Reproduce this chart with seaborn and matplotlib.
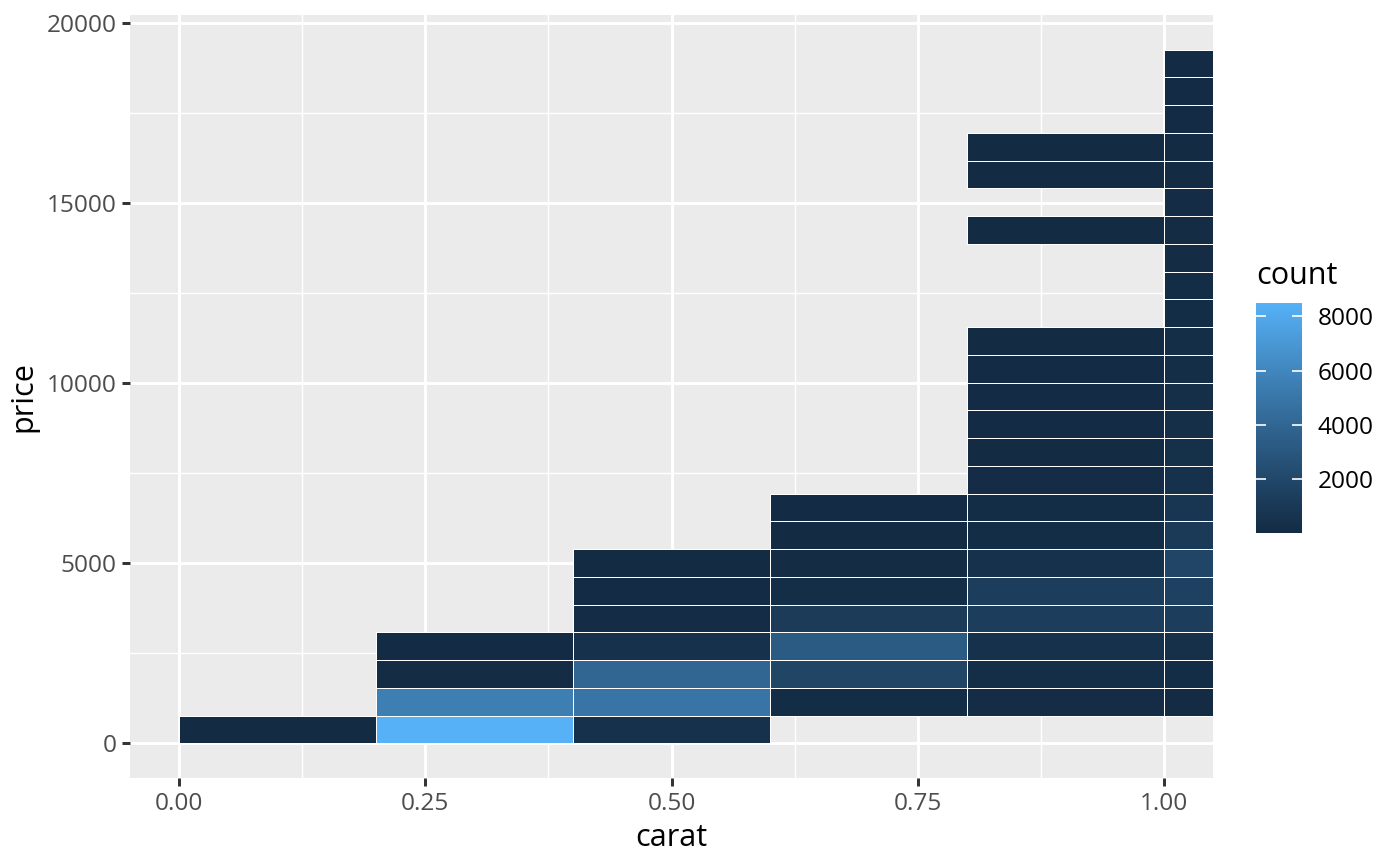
import numpy as np
import pandas as pd
import matplotlib
matplotlib.use("Agg")
import matplotlib.pyplot as plt
from matplotlib.colors import ListedColormap
from matplotlib.ticker import FixedLocator, FormatStrFormatter
import seaborn as sns

# ---------------- data ----------------
carat_bin_left = [0.0, 0.2, 0.4, 0.6, 0.8, 1.0]
price_binwidth = 770
N = None
counts_0_0 = [12]
counts_0_2 = [8500, 5500, 150, 60]
counts_0_4 = [450, 4900, 4000, 450, 120, 60, 30]
counts_0_6 = [N, 200, 1800, 3250, 1150, 250, 150, 80, 40]
counts_0_8 = [N, 120, 250, 450, 1270, 1300, 500, 200, 180, 120, 90, 70, 50, 40, 30,
              N, N, N, 10, N, 8, 6]
counts_1_0 = [N, 100, 180, 380, 1330, 1580, 1840, 1080, 760, 440, 350, 300, 300, 250,
              250, 200, 180, 150, 140, 120, 100, 90, 70, 60, 40]
count_columns = [counts_0_0, counts_0_2, counts_0_4, counts_0_6, counts_0_8, counts_1_0]

x_ticks = [0.0, 0.25, 0.5, 0.75, 1.0]
y_ticks = [0, 5000, 10000, 15000, 20000]
cbar_ticks = [2000, 4000, 6000, 8000]

rows = []
for left, col in zip(carat_bin_left, count_columns):
    for r, c in enumerate(col):
        if c is not None:
            rows.append({"carat": left + 0.1, "price": (r + 0.5) * price_binwidth, "count": c})
df = pd.DataFrame(rows)

x_edges = np.round(np.arange(0, 7) * 0.2, 6)
y_edges = np.arange(0, 26) * price_binwidth

# ---------------- colormap: ggplot default gradient (Lab interp) ----------------
def _hex2rgb(h):
    h = h.lstrip("#")
    return np.array([int(h[i:i + 2], 16) / 255 for i in (0, 2, 4)])

_M = np.array([[0.4124, 0.3576, 0.1805], [0.2126, 0.7152, 0.0722], [0.0193, 0.1192, 0.9505]])
_W = np.array([0.95047, 1.0, 1.08883])

def _rgb2lab(c):
    lin = np.where(c <= 0.04045, c / 12.92, ((c + 0.055) / 1.055) ** 2.4)
    xyz = _M @ lin / _W
    d = 6 / 29
    f = np.where(xyz > d ** 3, np.cbrt(xyz), xyz / (3 * d * d) + 4 / 29)
    return np.array([116 * f[1] - 16, 500 * (f[0] - f[1]), 200 * (f[1] - f[2])])

def _lab2rgb(lab):
    d = 6 / 29
    fy = (lab[0] + 16) / 116
    fx = fy + lab[1] / 500
    fz = fy - lab[2] / 200
    f = np.array([fx, fy, fz])
    xyz = np.where(f > d, f ** 3, 3 * d * d * (f - 4 / 29)) * _W
    lin = np.linalg.solve(_M, xyz)
    lin = np.clip(lin, 0, 1)
    c = np.where(lin <= 0.0031308, 12.92 * lin, 1.055 * lin ** (1 / 2.4) - 0.055)
    return np.clip(c, 0, 1)

_lo, _hi = _rgb2lab(_hex2rgb("#132B43")), _rgb2lab(_hex2rgb("#56B1F7"))
cmap = ListedColormap([_lab2rgb(_lo + t * (_hi - _lo)) for t in np.linspace(0, 1, 256)])

# ---------------- figure ----------------
plt.rcParams["font.family"] = ["Open Sans", "DejaVu Sans"]
W, H = 1400, 866
fig = plt.figure(figsize=(7, 4.33), dpi=200)
ax = fig.add_axes([130 / W, 1 - 778 / H, (1213 - 130) / W, (778 - 15) / H])
cax = fig.add_axes([1256 / W, 1 - 533.3 / H, 46 / W, 230.6 / H])

ax.set_facecolor("#EBEBEB")
for s in ax.spines.values():
    s.set_visible(False)
ax.set_axisbelow(True)

sns.histplot(data=df, x="carat", y="price", weights="count",
             bins=(x_edges, y_edges), cmap=cmap, cbar=True, cbar_ax=cax,
             ax=ax, edgecolor="white", linewidth=0.35)

mesh = ax.collections[0]
mesh.set_clim(df["count"].min(), df["count"].max())
mask = np.ma.getmaskarray(mesh.get_array()).ravel()
ec = np.tile([1.0, 1.0, 1.0, 1.0], (mask.size, 1))
ec[mask] = [1.0, 1.0, 1.0, 0.0]
mesh.set_edgecolor(ec)

ax.set_xlim(-0.05, 1.05)
ax.set_ylim(-962.5, 20212.5)
ax.xaxis.set_major_locator(FixedLocator(x_ticks))
ax.xaxis.set_minor_locator(FixedLocator([0.125, 0.375, 0.625, 0.875]))
ax.yaxis.set_major_locator(FixedLocator(y_ticks))
ax.yaxis.set_minor_locator(FixedLocator([2500, 7500, 12500, 17500]))
ax.xaxis.set_major_formatter(FormatStrFormatter("%.2f"))
ax.yaxis.set_major_formatter(FormatStrFormatter("%d"))
ax.grid(which="major", color="white", linewidth=1.07)
ax.grid(which="minor", color="white", linewidth=0.53)
ax.tick_params(which="major", length=2.75, width=1.07, color="#333333",
               labelsize=8.8, labelcolor="#4D4D4D", pad=2.2)
ax.tick_params(which="minor", length=0)
ax.set_xlabel("carat", fontsize=11, color="black", labelpad=2.75)
ax.set_ylabel("price", fontsize=11, color="black", labelpad=2.75)

# colorbar styling
cbar = mesh.colorbar
cbar.outline.set_visible(False)
cbar.set_ticks(cbar_ticks)
cbar.ax.yaxis.set_major_formatter(FormatStrFormatter("%d"))
cax.minorticks_off()
cax.tick_params(axis="y", which="major", direction="in", left=True, right=True,
                labelleft=False, labelright=True, length=3.6, width=0.6,
                color="white", labelsize=8.8, labelcolor="black", pad=5.5)
fig.text(1256 / W, 1 - 284 / H, "count", fontsize=11, color="black",
         ha="left", va="baseline")

fig.savefig("out.png", dpi=200)
